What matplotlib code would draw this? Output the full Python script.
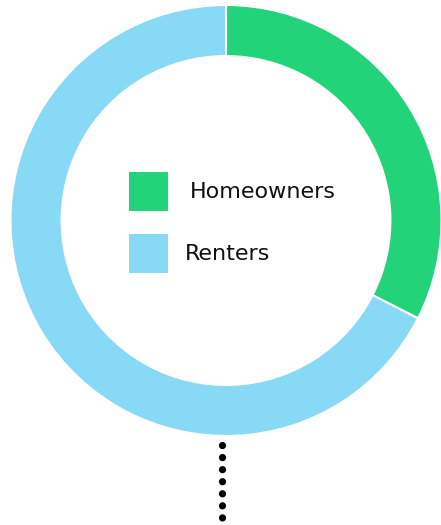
import matplotlib
matplotlib.use("Agg")
import matplotlib.pyplot as plt
from matplotlib.patches import Rectangle
from matplotlib.lines import Line2D

# data
labels = ["Homeowners", "Renters"]
shares = [32.5, 67.5]
colors = ["#22d37a", "#88d9f6"]

W, H = 441, 525
fig = plt.figure(figsize=(W / 100, H / 100), dpi=100)

# donut, centre ~ (226, 220.5) px, outer radius ~215.5 px
cx, cy, r = 226, 220.5, 215.5
ax = fig.add_axes([(cx - r) / W, (H - cy - r) / H, 2 * r / W, 2 * r / H])
ax.pie(shares, colors=colors, startangle=90, counterclock=False, radius=1,
       wedgeprops=dict(width=0.237, edgecolor="white", linewidth=1.5))
ax.set_xlim(-1, 1)
ax.set_ylim(-1, 1)
ax.set_aspect("equal")
ax.axis("off")

# legend drawn by hand inside the hole
box_tops = [172, 234]
text_x = [190, 185]
for lab, col, top, tx in zip(labels, colors, box_tops, text_x):
    fig.patches.append(Rectangle((129 / W, (H - top - 39) / H), 39 / W, 39 / H,
                                 transform=fig.transFigure, facecolor=col,
                                 edgecolor="none"))
    fig.text(tx / W, (H - top - 20) / H, lab, fontsize=16, color="#111111",
             va="center", ha="left", family="DejaVu Sans")

# dotted leader below the ring
fig.add_artist(Line2D([221.5 / W, 221.5 / W], [(H - 445) / H, (H - 518) / H],
                      transform=fig.transFigure, color="black", linewidth=5.2,
                      linestyle=(0, (0.01, 1.66)), dash_capstyle="round"))

fig.savefig("out.png", dpi=100)
